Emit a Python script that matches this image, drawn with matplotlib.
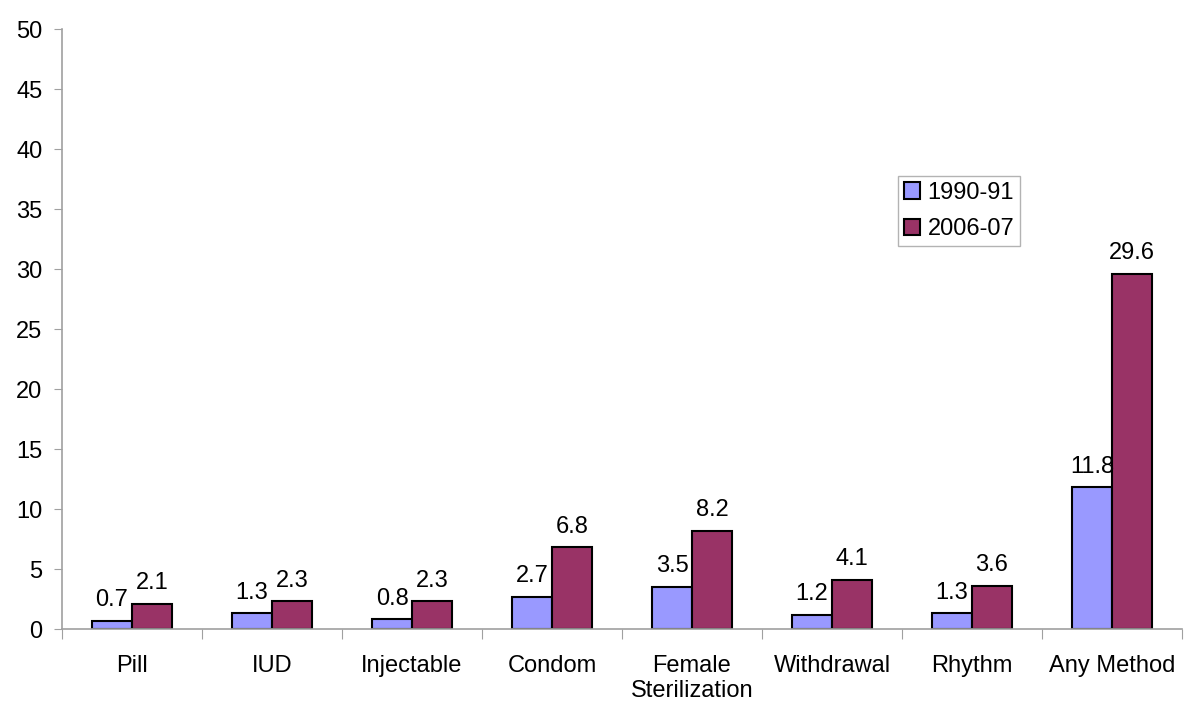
import numpy as np
import matplotlib.pyplot as plt

# data
categories = ["Pill", "IUD", "Injectable", "Condom", "Female\nSterilization",
              "Withdrawal", "Rhythm", "Any Method"]
y1990 = [0.7, 1.3, 0.8, 2.7, 3.5, 1.2, 1.3, 11.8]
y2006 = [2.1, 2.3, 2.3, 6.8, 8.2, 4.1, 3.6, 29.6]
series_names = ["1990-91", "2006-07"]
colors = ["#9999FF", "#993366"]

plt.rcParams['font.family'] = ['Liberation Sans', 'DejaVu Sans']
fs = 17

fig = plt.figure(figsize=(12, 7.16), dpi=100)
ax = fig.add_axes([62 / 1200, 87 / 716, 1120 / 1200, 600 / 716])

x = np.arange(len(categories))
w = 0.2857
b1 = ax.bar(x - w / 2, y1990, w, color=colors[0], edgecolor="black", linewidth=1.5,
            label=series_names[0])
b2 = ax.bar(x + w / 2, y2006, w, color=colors[1], edgecolor="black", linewidth=1.5,
            label=series_names[1])

for bars, vals in [(b1, y1990), (b2, y2006)]:
    for rect, v in zip(bars, vals):
        ax.annotate(f"{v}", (rect.get_x() + rect.get_width() / 2, v),
                    xytext=(0, 7), textcoords="offset points",
                    ha="center", va="bottom", fontsize=fs)

ax.set_xlim(-0.5, len(categories) - 0.5)
ax.set_ylim(0, 50)
ax.set_yticks(np.arange(0, 51, 5))
ax.tick_params(axis="y", labelsize=fs, length=6, color="#a0a0a0", pad=8)

# category ticks at boundaries, labels centered
ax.set_xticks(np.arange(-0.5, len(categories), 1.0))
ax.set_xticklabels([])
ax.set_xticks(x, minor=True)
ax.set_xticklabels(categories, minor=True, fontsize=fs, linespacing=1.15)
ax.tick_params(axis="x", which="major", length=7, color="#a0a0a0")
ax.tick_params(axis="x", which="minor", length=0, pad=19)

for s in ["top", "right"]:
    ax.spines[s].set_visible(False)
for s in ["left", "bottom"]:
    ax.spines[s].set_color("#a0a0a0")
    ax.spines[s].set_linewidth(1.2)

leg = ax.legend(loc="upper left", bbox_to_anchor=(898 / 1200, 1 - 176 / 716),
                bbox_transform=fig.transFigure, fontsize=fs, frameon=True,
                fancybox=False, edgecolor="#a0a0a0", handlelength=0.7,
                handleheight=0.7, handletextpad=0.3, borderpad=0.25,
                labelspacing=0.6, borderaxespad=0)
leg.get_frame().set_linewidth(1.0)

fig.savefig("out.png", dpi=100)
